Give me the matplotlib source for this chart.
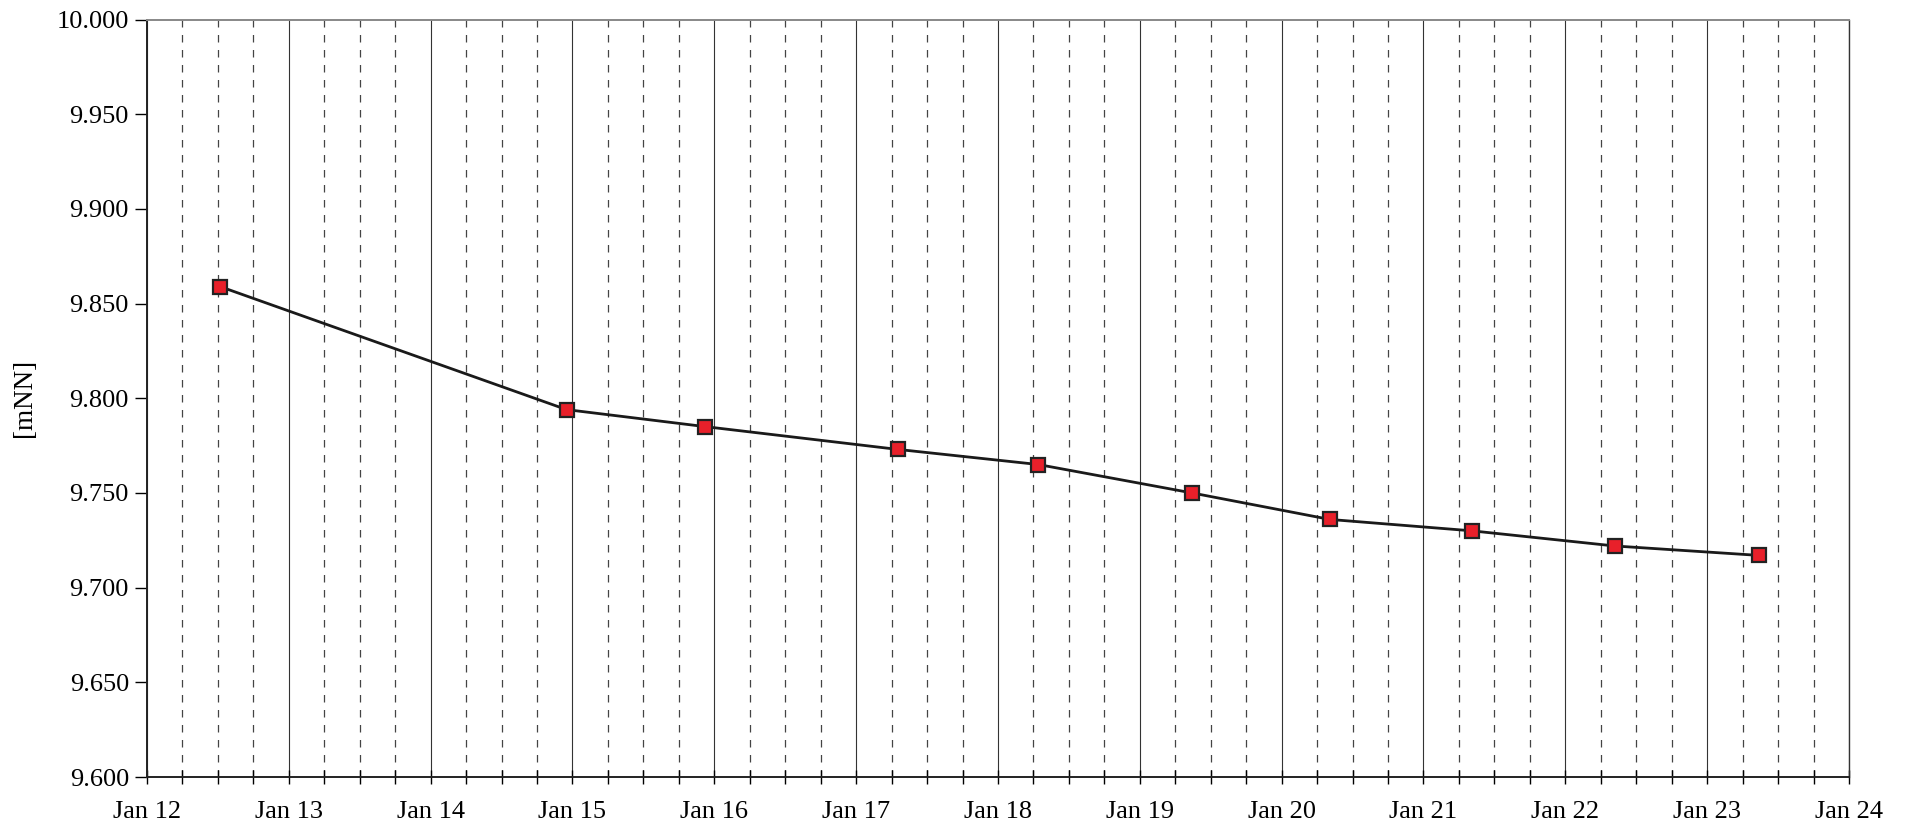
import matplotlib
matplotlib.use("Agg")
import matplotlib.pyplot as plt
import matplotlib.dates as mdates
import numpy as np
from datetime import datetime

plt.rcParams['font.family'] = ['Liberation Serif', 'DejaVu Serif']

# measurement times and water levels
times = ["2024-01-12 12:20", "2024-01-14 23:00", "2024-01-15 22:30",
         "2024-01-17 07:00", "2024-01-18 06:50", "2024-01-19 08:50",
         "2024-01-20 08:10", "2024-01-21 08:10", "2024-01-22 08:20",
         "2024-01-23 08:50"]
levels = [9.859, 9.794, 9.785, 9.773, 9.765, 9.750, 9.736, 9.730, 9.722, 9.717]

x = [datetime.strptime(t, "%Y-%m-%d %H:%M") for t in times]

fig = plt.figure(figsize=(19.07, 8.33), dpi=100)
ax = fig.add_axes([147 / 1907, 1 - 777 / 833, (1849 - 147) / 1907, (777 - 19.5) / 833])

ax.plot(x, levels, color='#1a1a1a', lw=2.0, marker='s', ms=10,
        mfc='#e8202a', mec='#222222', mew=1.6, zorder=5)

ax.set_xlim(datetime(2024, 1, 12), datetime(2024, 1, 24))
ax.set_ylim(9.6, 10.0)
ax.set_yticks(np.arange(9.6, 10.0001, 0.05))
ax.yaxis.set_major_formatter(matplotlib.ticker.FormatStrFormatter('%.3f'))

ax.xaxis.set_major_locator(mdates.DayLocator())
ax.xaxis.set_minor_locator(mdates.HourLocator(byhour=[6, 12, 18]))
ax.xaxis.set_major_formatter(mdates.DateFormatter('%b %d'))

ax.grid(which='major', axis='x', color='#333333', lw=0.8, ls='-')
ax.grid(which='minor', axis='x', color='#444444', lw=0.9, ls=(0, (6, 6)))
ax.grid(which='major', axis='y', visible=False)

ax.tick_params(axis='x', which='both', direction='inout', length=10, width=1, pad=12, labelsize=19)
ax.tick_params(axis='y', which='major', direction='out', length=9, width=1, pad=4, labelsize=19)

for s in ['left', 'bottom']:
    ax.spines[s].set_linewidth(1.4)
    ax.spines[s].set_color('#222222')
ax.spines['right'].set_linewidth(1.0)
ax.spines['right'].set_color('#333333')
ax.spines['top'].set_linewidth(1.4)
ax.spines['top'].set_color('#888888')

ax.set_ylabel('[mNN]', fontsize=19.5, labelpad=14)

fig.savefig('out.png', dpi=100)
